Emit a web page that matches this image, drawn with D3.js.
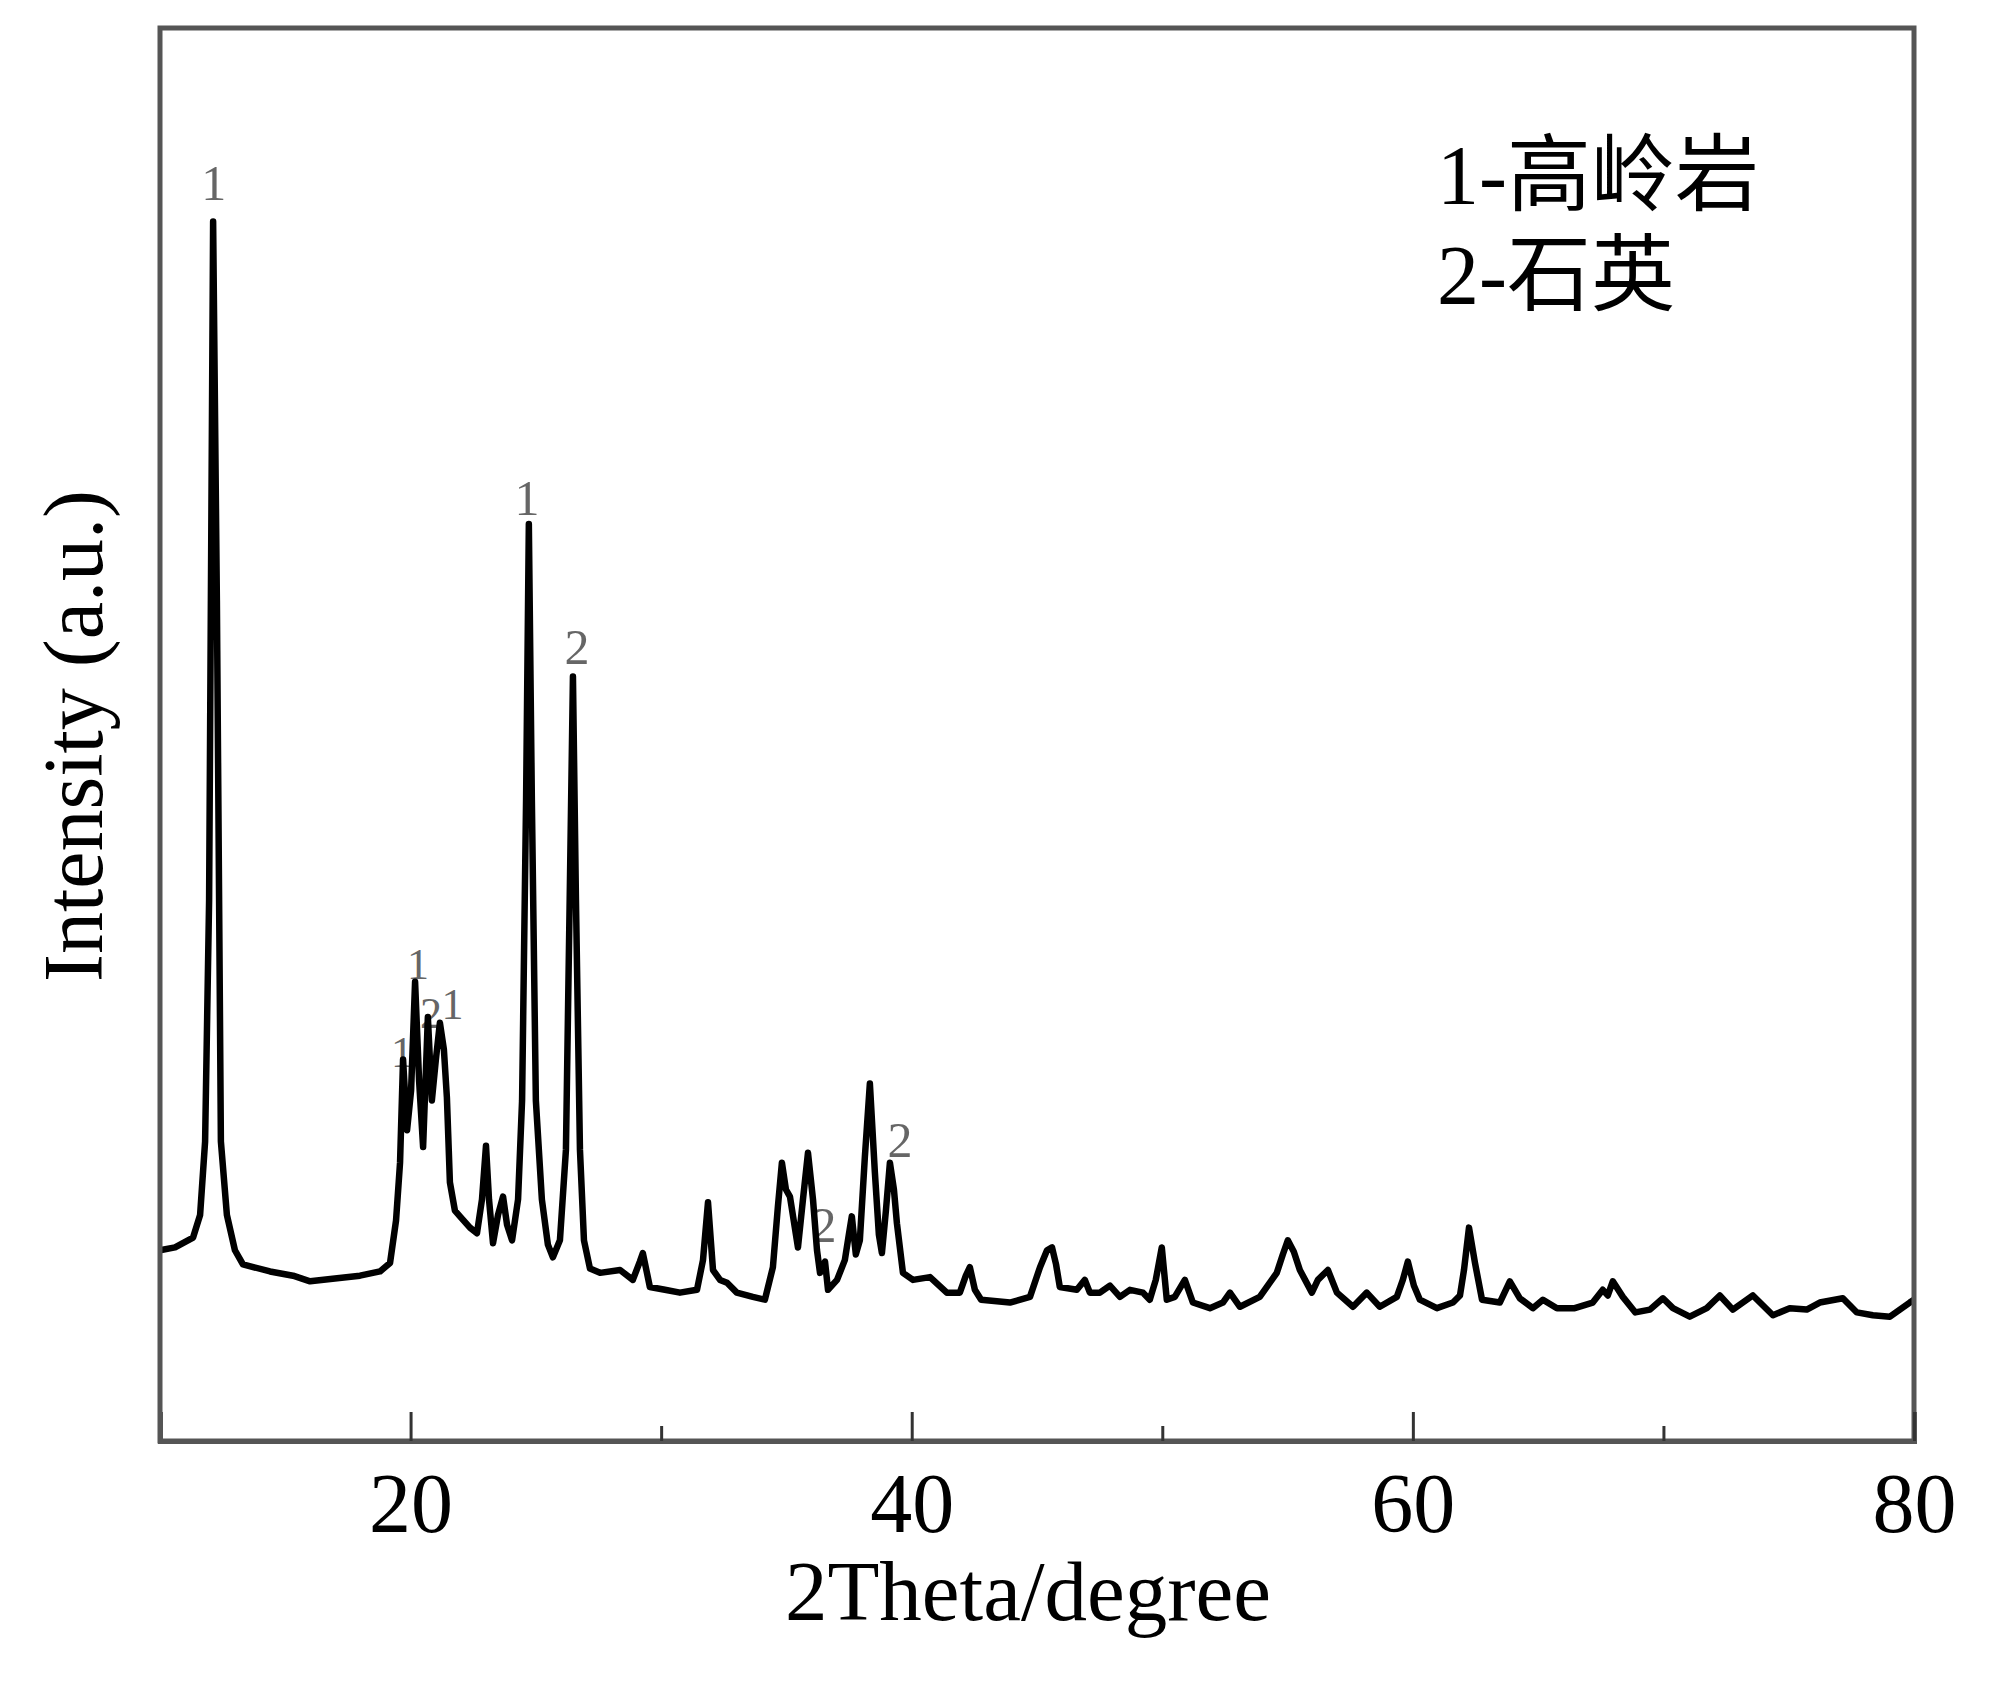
<!DOCTYPE html>
<html>
<meta charset="utf-8">
<head>
<style>
body {
  background-color: #fff;
  padding:0; margin:0;
}
svg { display:block; }
.tick text, .title, .legend {
  font-family: "Liberation Serif", "Noto Sans CJK SC", serif;
  fill: #000;
}
.peak-label {
  font-family: "Liberation Serif", serif;
  font-size: 50px;
  fill: #666;
}
.peak-label.tight { font-size: 44px; }
</style>
</head>
<body>
<svg></svg>
<script src="https://d3js.org/d3.v7.min.js"></script>
<script>

// XRD pattern, 2theta (degree) and intensity (a.u.)
var twoTheta = [10.00,10.60,11.32,11.60,11.80,11.96,12.12,12.27,12.43,12.67,12.99,13.31,14.39,15.31,15.99,16.98,17.98,18.78,19.18,19.42,
  19.58,19.70,19.86,20.02,20.18,20.34,20.50,20.69,20.85,21.01,21.17,21.33,21.45,21.57,21.77,21.97,22.37,22.65,22.85,23.01,
  23.13,23.29,23.49,23.69,23.85,24.05,24.29,24.45,24.61,24.72,24.84,25.00,25.24,25.48,25.68,25.96,26.20,26.35,26.48,26.60,
  26.76,26.92,27.16,27.56,28.36,28.87,29.15,29.27,29.55,30.15,30.75,31.43,31.67,31.87,32.07,32.35,32.63,33.02,33.66,34.14,
  34.46,34.66,34.82,34.98,35.14,35.46,35.66,35.86,36.06,36.22,36.34,36.54,36.66,37.02,37.33,37.49,37.61,37.77,37.93,38.13,
  38.33,38.53,38.69,38.81,38.97,39.13,39.29,39.41,39.65,40.05,40.73,41.40,41.92,42.16,42.32,42.52,42.77,43.92,44.72,45.12,
  45.40,45.60,45.76,45.91,46.59,46.91,47.11,47.51,47.91,48.31,48.71,49.23,49.50,49.74,49.98,50.18,50.50,50.90,51.22,51.90,
  52.42,52.70,53.10,53.89,54.57,54.81,55.01,55.25,55.49,55.97,56.21,56.61,56.97,57.61,58.16,58.68,59.36,59.60,59.80,60.04,
  60.28,60.96,61.60,61.88,62.04,62.24,62.48,62.76,63.47,63.87,64.27,64.79,65.19,65.75,66.46,67.18,67.58,67.78,67.98,68.38,
  68.88,69.46,69.98,70.38,71.05,71.73,72.25,72.77,73.57,74.37,75.04,75.72,76.24,77.16,77.72,78.36,79.04,79.83,80.00];

var intensity = [135,137,144,160,212,383,863,595,212,160,135,125,120,117,113,115,117,120,126,156,
  197,270,220,248,325,255,208,300,241,270,296,277,243,183,163,159,151,147,171,209,
  171,140,160,173,153,142,171,241,454,649,454,241,171,139,130,142,206,383,541,383,
  206,142,122,119,121,114,127,133,109,107,105,107,128,169,121,114,112,105,102,100,
  123,166,197,178,173,137,171,204,171,135,119,127,107,114,128,146,159,132,142,201,
  253,190,146,133,163,197,178,154,119,114,116,105,105,117,123,107,100,98,102,123,
  135,137,125,109,107,114,105,105,110,102,107,105,100,114,137,100,102,114,98,94,
  98,105,95,102,119,132,142,134,121,105,114,121,105,95,105,95,102,114,127,110,
  100,94,98,103,121,151,126,100,98,113,101,94,100,94,94,98,107,103,113,102,
  91,93,101,94,88,94,103,93,103,89,94,93,98,101,91,89,88,98,100];

// phase markers above peaks (1 = kaolinite, 2 = quartz)
var labelText = ["1","1","2","1","1","2","1","2","2"];
var labelTheta = [12.15,24.65,26.64,19.66,20.30,20.82,21.67,36.50,39.53];
var labelInt = [878,655,550,265,327,292,299,141,201];

var majorTicks = [20,40,60,80];
var minorTicks = [30,50,70];
var legendLines = ["1-高岭岩","2-石英"];

var width = 2000, height = 1681;
var margin = {top: 28, right: 86, bottom: 240, left: 160};

var svg = d3.select("svg")
  .attr("width", width)
  .attr("height", height);

var x = d3.scaleLinear().domain([10, 80]).range([margin.left, width - margin.right]);
var y = d3.scaleLinear().domain([0, 1000]).range([height - margin.bottom, margin.top]);

var data = twoTheta.map(function(t, i) { return {t: t, v: intensity[i]}; });

// peak labels (drawn first, the trace runs over them)
svg.append("g").selectAll("text")
  .data(labelText)
  .enter().append("text")
    .attr("class", function(d, i) {
      // the 19-22 degree group is crowded, use a smaller size there
      return labelTheta[i] > 19 && labelTheta[i] < 22 ? "peak-label tight" : "peak-label";
    })
    .attr("text-anchor", "middle")
    .attr("x", function(d, i) { return x(labelTheta[i]); })
    .attr("y", function(d, i) { return y(labelInt[i]); })
    .text(function(d) { return d; });

// pattern
var line = d3.line()
  .x(function(d) { return x(d.t); })
  .y(function(d) { return y(d.v); });

svg.append("path")
  .datum(data)
  .attr("fill", "none")
  .attr("stroke", "#000")
  .attr("stroke-width", 6.5)
  .attr("stroke-linejoin", "round")
  .attr("d", line);

// frame
svg.append("rect")
  .attr("x", margin.left)
  .attr("y", margin.top)
  .attr("width", width - margin.left - margin.right)
  .attr("height", height - margin.top - margin.bottom)
  .attr("fill", "none")
  .attr("stroke", "#555")
  .attr("stroke-width", 5);

// bottom axis, ticks pointing in
var xAxis = svg.append("g")
  .attr("transform", "translate(0," + (height - margin.bottom) + ")")
  .call(d3.axisBottom(x).tickValues(majorTicks).tickSize(-29).tickPadding(31).tickFormat(d3.format("d")));

svg.append("g")
  .attr("transform", "translate(0," + (height - margin.bottom) + ")")
  .call(d3.axisBottom(x).tickValues(minorTicks).tickSize(-15).tickFormat(""))
  .call(function(g) { g.select(".domain").remove(); });

svg.selectAll(".tick line").attr("stroke", "#333").attr("stroke-width", 3);
xAxis.select(".domain").attr("stroke", "#555").attr("stroke-width", 5);
xAxis.selectAll(".tick text").style("font-size", "84px");

// titles
svg.append("text")
  .attr("class", "title")
  .attr("x", 1028)
  .attr("y", 1620)
  .attr("text-anchor", "middle")
  .style("font-size", "85px")
  .text("2Theta/degree");

svg.append("text")
  .attr("class", "title")
  .attr("transform", "translate(102,736) rotate(-90)")
  .attr("text-anchor", "middle")
  .style("font-size", "84px")
  .text("Intensity (a.u.)");

// legend
svg.append("g").selectAll("text")
  .data(legendLines)
  .enter().append("text")
    .attr("class", "legend")
    .attr("x", 1437)
    .attr("y", function(d, i) { return 204 + i * 100; })
    .style("font-size", "84px")
    .text(function(d) { return d; });

</script>
</body>
</html>
